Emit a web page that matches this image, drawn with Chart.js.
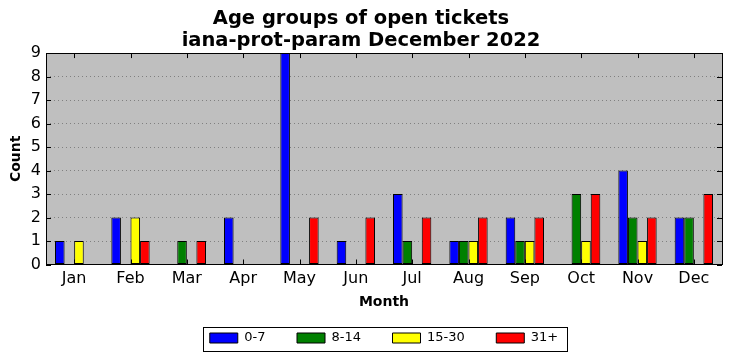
<!DOCTYPE html>
<html>
<head>
<meta charset="utf-8">
<script src="https://cdn.jsdelivr.net/npm/chart.js@4.4.1/dist/chart.umd.min.js"></script>
<style>
body { margin: 0; background: #fff; }
</style>
</head>
<body>
<canvas id="chart" width="732" height="361"></canvas>
<script>
// data
var months = ['Jan', 'Feb', 'Mar', 'Apr', 'May', 'Jun', 'Jul', 'Aug', 'Sep', 'Oct', 'Nov', 'Dec'];
var age0to7 = [1, 2, 0, 2, 9, 1, 3, 1, 2, 0, 4, 2];
var age8to14 = [0, 0, 1, 0, 0, 0, 1, 1, 1, 3, 2, 2];
var age15to30 = [1, 2, 0, 0, 0, 0, 0, 1, 1, 1, 1, 0];
var age31plus = [0, 1, 1, 0, 2, 2, 2, 2, 2, 3, 2, 3];
var yMax = 9;

Chart.defaults.font.family = "'DejaVu Sans', sans-serif";
Chart.defaults.color = '#000';

function series(label, values, color) {
    return {
        label: label,
        data: values,
        backgroundColor: color,
        borderColor: '#000',
        borderWidth: 1,
        borderSkipped: false
    };
}

// gray plot background, black frame and inward ticks like the original
var framePlugin = {
    id: 'frame',
    afterUpdate: function (chart) {
        // center the legend under the plot area, not the whole canvas
        var lg = chart.legend, a = chart.chartArea;
        var shift = (a.left + a.right) / 2 - (lg.left + lg.right) / 2;
        lg.left += shift;
        lg.right += shift;
        (lg.legendHitBoxes || []).forEach(function (hb) { hb.left += shift; });
    },
    beforeDraw: function (chart) {
        var a = chart.chartArea, ctx = chart.ctx;
        ctx.save();
        ctx.fillStyle = '#bfbfbf';
        ctx.fillRect(a.left, a.top, a.right - a.left, a.bottom - a.top);
        ctx.restore();
    },
    afterDraw: function (chart) {
        var a = chart.chartArea, ctx = chart.ctx;
        var x = chart.scales.x, y = chart.scales.y;
        ctx.save();
        ctx.strokeStyle = '#000';
        ctx.lineWidth = 1;
        ctx.beginPath();
        x.ticks.forEach(function (t, i) {
            var px = Math.round(x.getPixelForTick(i)) + 0.5;
            ctx.moveTo(px, a.bottom); ctx.lineTo(px, a.bottom - 5);
            ctx.moveTo(px, a.top); ctx.lineTo(px, a.top + 5);
        });
        y.ticks.forEach(function (t, i) {
            var py = Math.round(y.getPixelForTick(i)) + 0.5;
            ctx.moveTo(a.left, py); ctx.lineTo(a.left + 5, py);
            ctx.moveTo(a.right, py); ctx.lineTo(a.right - 5, py);
        });
        ctx.stroke();
        ctx.strokeRect(Math.round(a.left) + 0.5, Math.round(a.top) + 0.5,
            Math.round(a.right - a.left), Math.round(a.bottom - a.top));

        // box round the legend
        var boxes = chart.legend.legendHitBoxes;
        if (boxes && boxes.length) {
            var first = boxes[0], last = boxes[boxes.length - 1];
            var l = Math.round(first.left) - 6.5;
            var r = Math.round(last.left + last.width) + 9.5;
            var t = Math.round(first.top) - 4.5;
            var b = Math.round(first.top) + 19.5;
            ctx.strokeRect(l, t, r - l, b - t);
        }
        ctx.restore();
    }
};

new Chart(document.getElementById('chart'), {
    type: 'bar',
    data: {
        labels: months,
        datasets: [
            series('0-7', age0to7, '#0000ff'),
            series('8-14', age8to14, '#008000'),
            series('15-30', age15to30, '#ffff00'),
            series('31+', age31plus, '#ff0000')
        ]
    },
    options: {
        responsive: false,
        animation: false,
        layout: { padding: { left: 0, right: 10, top: 0, bottom: 6.5 } },
        datasets: {
            bar: { categoryPercentage: 0.68, barPercentage: 1.0 }
        },
        plugins: {
            title: {
                display: true,
                text: ['Age groups of open tickets', 'iana-prot-param December 2022'],
                font: { size: 19.5, weight: 'bold', lineHeight: 1.13 },
                color: '#000',
                padding: { top: 8, bottom: 1 }
            },
            legend: {
                position: 'bottom',
                labels: {
                    boxWidth: 28,
                    boxHeight: 10,
                    padding: 31.5,
                    font: { size: 13 },
                    color: '#000'
                }
            },
            tooltip: { enabled: false }
        },
        scales: {
            x: {
                grid: { display: false, drawTicks: false },
                border: { display: false },
                ticks: { font: { size: 16 }, padding: 5, maxRotation: 0 },
                title: { display: true, text: 'Month', font: { size: 14, weight: 'bold' }, padding: { top: 0, bottom: -10.9 } },
                afterFit: function (s) { s.height = 35.5; }
            },
            y: {
                min: 0,
                max: yMax,
                grid: { color: '#808080', lineWidth: 1, drawTicks: false },
                border: { display: false, dash: [1, 3] },
                ticks: { stepSize: 1, autoSkip: false, font: { size: 16 }, padding: 5 },
                title: { display: true, text: 'Count', font: { size: 14, weight: 'bold' }, padding: { top: 8, bottom: 0 } },
                afterFit: function (s) { s.width = 46; }
            }
        }
    },
    plugins: [framePlugin]
});
</script>
</body>
</html>
